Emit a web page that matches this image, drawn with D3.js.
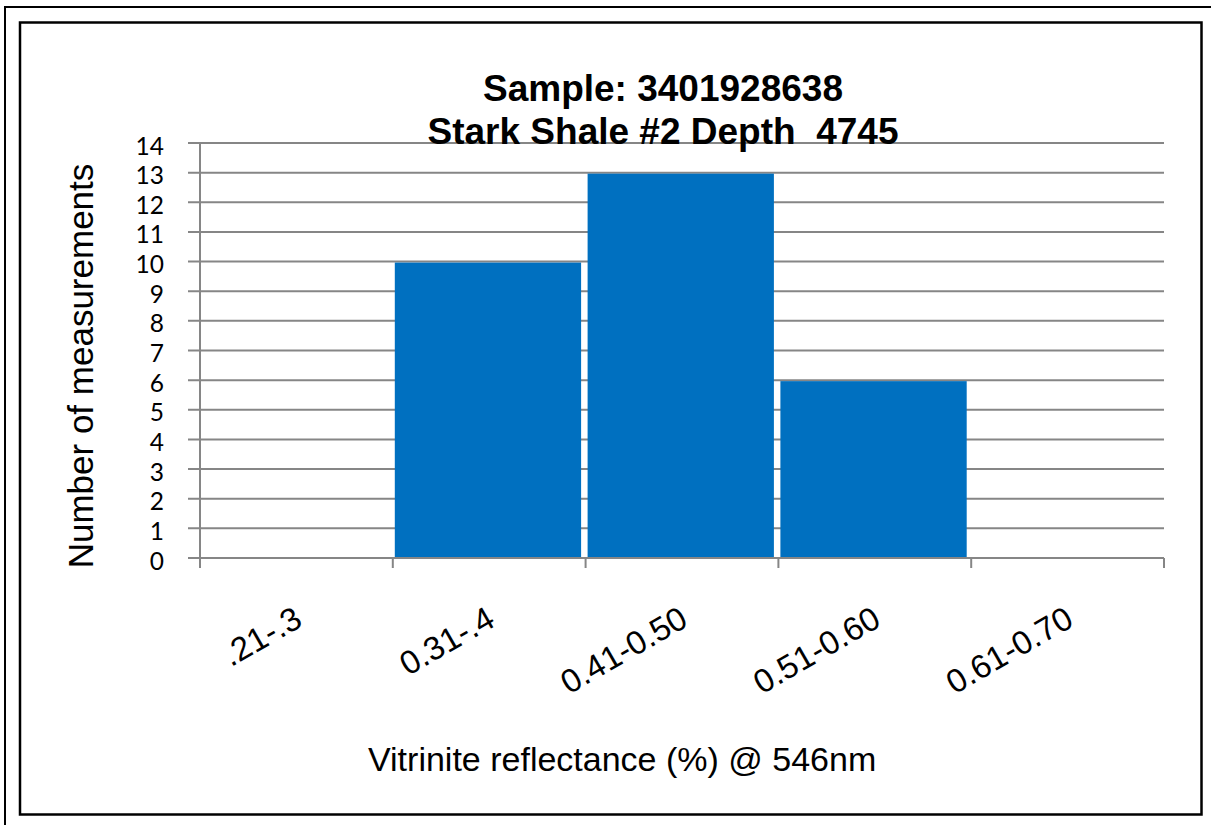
<!DOCTYPE html>
<html>
<head>
<meta charset="utf-8">
<script src="https://cdn.jsdelivr.net/npm/d3@7"></script>
<style>
  html, body { margin: 0; padding: 0; background: #fff; }
  svg { display: block; }
</style>
</head>
<body>
<svg id="chart" width="1211" height="825"></svg>
<script>
const categories = [".21-.3", "0.31-.4", "0.41-0.50", "0.51-0.60", "0.61-0.70"];
const counts = [0, 10, 13, 6, 0];
const yTicks = [0, 1, 2, 3, 4, 5, 6, 7, 8, 9, 10, 11, 12, 13, 14];
const titleLines = ["Sample: 3401928638", "Stark Shale #2 Depth  4745"];
const xTitle = "Vitrinite reflectance (%) @ 546nm";
const yTitle = "Number of measurements";

const svg = d3.select("#chart");
const plot = { left: 200, right: 1164, top: 143, bottom: 558 };
const gridColor = "#868686";

// frames
svg.append("rect").attr("x", 5).attr("y", 7).attr("width", 1230).attr("height", 840)
  .attr("fill", "none").attr("stroke", "#000").attr("stroke-width", 2);
svg.append("rect").attr("x", 20).attr("y", 22.5).attr("width", 1181.5).attr("height", 792)
  .attr("fill", "#fff").attr("stroke", "#000").attr("stroke-width", 2.5);

const x = d3.scaleBand().domain(categories).range([plot.left, plot.right]).padding(0);
const y = d3.scaleLinear().domain([0, 14]).range([plot.bottom, plot.top]);

// gridlines
svg.append("g").selectAll("line").data(yTicks.filter(d => d > 0)).join("line")
  .attr("x1", plot.left - 12).attr("x2", plot.right)
  .attr("y1", d => y(d)).attr("y2", d => y(d))
  .attr("stroke", gridColor).attr("stroke-width", 2);

// bars
svg.append("g").selectAll("rect").data(categories.map((c, i) => ({ c, v: counts[i] }))).join("rect")
  .attr("x", d => x(d.c) + 2)
  .attr("width", x.bandwidth() - 6.5)
  .attr("y", d => y(d.v) + 1)
  .attr("height", d => Math.max(0, y(0) - y(d.v) - 1))
  .attr("fill", "#0070C0");

// x axis line + ticks
svg.append("line").attr("x1", plot.left - 12).attr("x2", plot.right)
  .attr("y1", y(0)).attr("y2", y(0)).attr("stroke", gridColor).attr("stroke-width", 2);
const bounds = categories.map(c => x(c)).concat([plot.right]);
svg.append("g").selectAll("line").data(bounds).join("line")
  .attr("x1", d => d).attr("x2", d => d)
  .attr("y1", y(0)).attr("y2", y(0) + 10)
  .attr("stroke", gridColor).attr("stroke-width", 2);

// y axis line
svg.append("line").attr("x1", plot.left).attr("x2", plot.left)
  .attr("y1", plot.top).attr("y2", y(0) + 10)
  .attr("stroke", gridColor).attr("stroke-width", 2);

// y tick labels
svg.append("g").selectAll("text").data(yTicks).join("text")
  .attr("x", 164).attr("y", d => y(d) + 2)
  .attr("text-anchor", "end").attr("dominant-baseline", "central")
  .attr("font-family", "Lato, 'Open Sans', sans-serif").attr("font-size", 24.5)
  .attr("fill", "#000").text(d => d);

// x tick labels
svg.append("g").selectAll("text").data(categories).join("text")
  .attr("transform", d => `translate(${x(d) + x.bandwidth() / 2 + 2},${615}) rotate(-30)`)
  .attr("text-anchor", "end").attr("dominant-baseline", "central")
  .attr("font-family", "'Liberation Sans', Arial, sans-serif").attr("font-size", 33)
  .attr("fill", "#000").text(d => d);

// title
svg.append("g").selectAll("text").data(titleLines).join("text")
  .attr("x", 663).attr("y", (d, i) => 101 + i * 43)
  .attr("text-anchor", "middle")
  .attr("font-family", "'Liberation Sans', Arial, sans-serif").attr("font-weight", "bold")
  .attr("font-size", 37).attr("fill", "#000")
  .style("white-space", "pre").text(d => d);

// axis titles
svg.append("text").attr("x", 368).attr("y", 771)
  .attr("font-family", "'Liberation Sans', Arial, sans-serif").attr("font-size", 34)
  .attr("fill", "#000").text(xTitle);
svg.append("text").attr("transform", "translate(93,366) rotate(-90)")
  .attr("text-anchor", "middle")
  .attr("font-family", "'Liberation Sans', Arial, sans-serif").attr("font-size", 35)
  .attr("fill", "#000").text(yTitle);
</script>
</body>
</html>
